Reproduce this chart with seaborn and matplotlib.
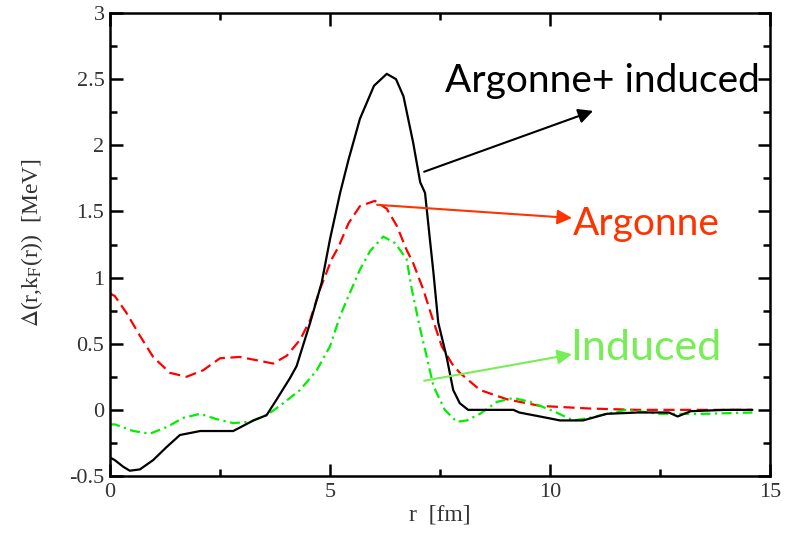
import numpy as np
import matplotlib
matplotlib.use("Agg")
import matplotlib.pyplot as plt
import seaborn as sns
from matplotlib.ticker import MultipleLocator

sns.set_style("ticks")
plt.rcParams['font.family'] = ['Liberation Serif', 'DejaVu Serif']
plt.rcParams['mathtext.fontset'] = 'stix'

# Argonne + induced (black, solid)
r_total = [0.0, 0.11, 0.3, 0.45, 0.68, 0.98, 1.29, 1.59, 2.05, 2.5, 2.8, 3.26, 3.56, 3.79,
           4.09, 4.24, 4.55, 4.81, 5.0, 5.23, 5.42, 5.68, 6.0, 6.29, 6.5, 6.67, 6.89, 7.05,
           7.16, 7.27, 7.35, 7.46, 7.65, 7.80, 7.95, 8.14, 8.6, 9.17, 9.3, 9.77, 10.23,
           10.75, 11.29, 12.0, 12.7, 12.9, 13.2, 14.0, 14.6]
d_total = [-0.36, -0.38, -0.43, -0.46, -0.45, -0.38, -0.28, -0.19, -0.16, -0.16, -0.16,
           -0.08, -0.04, 0.08, 0.24, 0.33, 0.66, 0.96, 1.29, 1.64, 1.89, 2.20, 2.45, 2.54,
           2.50, 2.37, 2.02, 1.72, 1.64, 1.29, 1.04, 0.66, 0.40, 0.15, 0.05, 0.0, 0.0, 0.0,
           -0.02, -0.05, -0.08, -0.08, -0.03, -0.02, -0.02, -0.05, -0.01, 0.0, 0.0]

# Argonne (red, dashed)
r_argonne = [0.0, 0.11, 0.38, 0.68, 0.98, 1.36, 1.74, 2.12, 2.5, 2.95, 3.41, 3.71, 4.02,
             4.32, 4.55, 4.77, 5.04, 5.19, 5.42, 5.68, 6.02, 6.29, 6.52, 6.74, 6.89, 7.12,
             7.31, 7.54, 7.77, 7.95, 8.41, 9.02, 9.77, 10.9, 12.0, 13.0, 14.0, 14.6]
d_argonne = [0.88, 0.86, 0.73, 0.56, 0.40, 0.28, 0.25, 0.30, 0.39, 0.40, 0.37, 0.35, 0.41,
             0.53, 0.68, 0.91, 1.14, 1.23, 1.41, 1.54, 1.58, 1.52, 1.39, 1.21, 1.11, 0.91,
             0.71, 0.48, 0.35, 0.28, 0.15, 0.08, 0.03, 0.01, 0.0, 0.0, 0.0, 0.0]

# Induced (green, dash-dot)
r_induced = [0.0, 0.11, 0.53, 0.91, 1.29, 1.67, 2.05, 2.42, 2.8, 3.18, 3.56, 3.86, 4.32,
             4.70, 5.0, 5.23, 5.42, 5.68, 5.91, 6.21, 6.48, 6.74, 6.86, 7.05, 7.20, 7.35,
             7.61, 7.88, 8.11, 8.41, 8.79, 9.17, 9.55, 10.08, 10.53, 10.9, 11.29, 11.74,
             12.5, 13.5, 14.6]
d_induced = [-0.11, -0.11, -0.16, -0.18, -0.13, -0.06, -0.03, -0.07, -0.10, -0.09, -0.04,
             0.03, 0.15, 0.30, 0.48, 0.71, 0.86, 1.06, 1.20, 1.31, 1.26, 1.14, 0.91, 0.61,
             0.40, 0.18, 0.0, -0.09, -0.08, -0.03, 0.06, 0.09, 0.06, -0.01, -0.08, -0.06,
             -0.03, 0.0, -0.03, -0.03, -0.02]

fig = plt.figure(figsize=(8.02, 5.34), dpi=100)
ax = fig.add_axes([110/802, 1-476/534, 660/802, 463/534])

sns.lineplot(x=r_argonne, y=d_argonne, ax=ax, color='#ff0000', lw=1.6,
             linestyle=(0, (5, 2.5)), sort=False, estimator=None)
sns.lineplot(x=r_induced, y=d_induced, ax=ax, color='#00ee00', lw=1.6,
             linestyle=(0, (4.5, 2, 1, 2)), sort=False, estimator=None)
sns.lineplot(x=r_total, y=d_total, ax=ax, color='black', lw=1.6, sort=False, estimator=None)

ax.set_xlim(0, 15)
ax.set_ylim(-0.5, 3)
ax.xaxis.set_major_locator(MultipleLocator(5))
ax.xaxis.set_minor_locator(MultipleLocator(2.5))
ax.yaxis.set_major_locator(MultipleLocator(0.5))
ax.yaxis.set_minor_locator(MultipleLocator(0.25))
ax.tick_params(which='both', direction='in', top=True, right=True, width=1.8,
               colors='black', labelcolor='#333333', labelsize=16)
ax.tick_params(which='major', length=9)
ax.tick_params(which='minor', length=5)
ax.tick_params(axis='x', pad=5)
ax.tick_params(axis='y', pad=4)
ax.xaxis.set_major_formatter(matplotlib.ticker.FuncFormatter(lambda v, p: '%g' % v))
ax.yaxis.set_major_formatter(matplotlib.ticker.FuncFormatter(lambda v, p: '%g' % v))
for s in ax.spines.values():
    s.set_linewidth(1.8)
    s.set_color('black')

ax.set_xlabel('r  [fm]', fontsize=17, color='#333333', labelpad=2)
fig.text(32/802, 1-242/534, r'$\Delta$(r,k$_{\rm F}$(r))  [MeV]', rotation=90,
         ha='center', va='center', fontsize=17, color='#333333')

# annotations
ann_font = ['Lato', 'DejaVu Sans']
fig.text(445/802, 1-92/534, 'Argonne+ induced', family=ann_font, fontsize=28,
         color='black', va='baseline', ha='left')
fig.text(573/802, 1-235/534, 'Argonne', family=ann_font, fontsize=28,
         color='#ff3300', va='baseline', ha='left')
fig.text(570/802, 1-360/534, 'Induced', family=ann_font, fontsize=31,
         color='#77ee55', va='baseline', ha='left')

ax.annotate('', xy=(10.98, 2.26), xytext=(7.14, 1.80),
            arrowprops=dict(arrowstyle='-|>', color='black', lw=1.5, mutation_scale=22,
                            shrinkA=0, shrinkB=0))
ax.annotate('', xy=(10.5, 1.45), xytext=(6.07, 1.55),
            arrowprops=dict(arrowstyle='-|>', color='#ff3300', lw=1.5, mutation_scale=22,
                            shrinkA=0, shrinkB=0))
ax.annotate('', xy=(10.5, 0.42), xytext=(7.14, 0.22),
            arrowprops=dict(arrowstyle='-|>', color='#77ee55', lw=1.5, mutation_scale=22,
                            shrinkA=0, shrinkB=0))

fig.savefig('out.png', dpi=100)
